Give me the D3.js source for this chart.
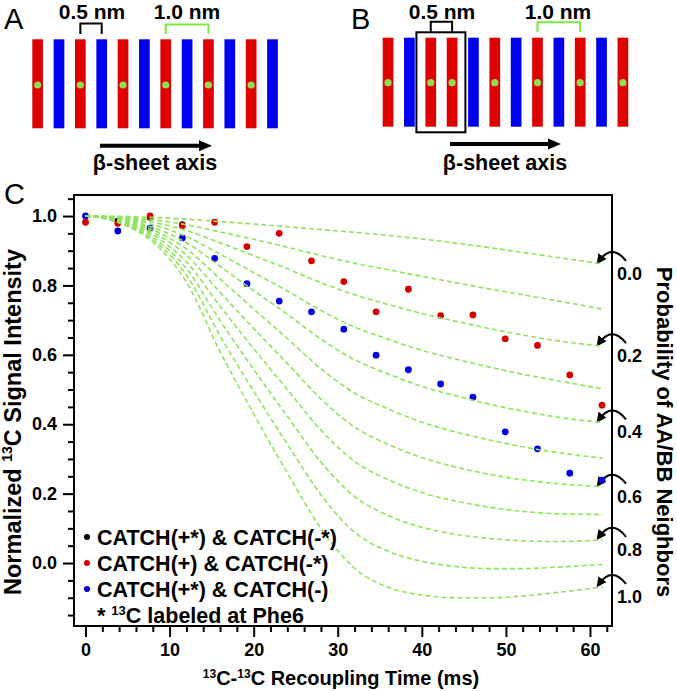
<!DOCTYPE html>
<html><head><meta charset="utf-8">
<script src="https://cdn.jsdelivr.net/npm/d3@7"></script>
<style>body{margin:0;background:#fff} svg{display:block} text{font-family:"Liberation Sans",Arial,Helvetica,sans-serif}</style>
</head><body><svg id="c" width="677" height="691"></svg>
<script>
// ---------- DATA ----------
const times = [0,3.84,7.68,11.52,15.36,19.2,23.04,26.88,30.72,34.56,38.4,42.24,46.08,49.92,53.76,57.6,61.44];
const redValues  = [0.982,0.979,1.0,0.972,0.982,0.912,0.950,0.871,0.811,0.724,0.789,0.713,0.715,0.646,0.627,0.542,0.455];
const blueValues = [1.0,0.957,0.965,0.937,0.878,0.805,0.755,0.724,0.674,0.599,0.557,0.516,0.478,0.378,0.329,0.259,0.239];
const blackTimes  = [3.84,7.68,11.52];
const blackValues = [0.986,0.996,0.976];

const curveTimes = [0,4,8,12,16,20,24,28,32,36,40,44,48,52,56,61.5];
const probabilities = [0.0,0.1,0.2,0.3,0.4,0.5,0.6,0.7,0.8,0.9,1.0];
const curveP00 = [1,0.999,0.996,0.991,0.984,0.977,0.969,0.961,0.953,0.944,0.934,0.922,0.909,0.895,0.881,0.862];
const curveP01 = [1,0.997,0.989,0.975,0.954,0.933,0.910,0.886,0.864,0.845,0.826,0.808,0.790,0.773,0.756,0.732];
const curveP02 = [1,0.995,0.982,0.958,0.923,0.886,0.848,0.808,0.773,0.745,0.719,0.697,0.676,0.657,0.641,0.625];
const curveP03 = [1,0.994,0.975,0.941,0.890,0.837,0.784,0.728,0.680,0.645,0.613,0.588,0.565,0.544,0.526,0.502];
const curveP04 = [1,0.992,0.967,0.923,0.855,0.785,0.717,0.645,0.586,0.545,0.509,0.482,0.458,0.438,0.421,0.405];
const curveP05 = [1,0.990,0.960,0.905,0.819,0.732,0.647,0.560,0.490,0.444,0.406,0.378,0.355,0.335,0.319,0.302];
const curveP06 = [1,0.988,0.953,0.887,0.780,0.676,0.575,0.473,0.392,0.342,0.304,0.277,0.256,0.240,0.229,0.220];
const curveP07 = [1,0.986,0.946,0.868,0.740,0.618,0.500,0.383,0.293,0.240,0.203,0.179,0.161,0.149,0.142,0.140];
const curveP08 = [1,0.984,0.939,0.849,0.699,0.558,0.423,0.291,0.192,0.137,0.103,0.083,0.071,0.064,0.062,0.067];
const curveP09 = [1,0.982,0.932,0.830,0.655,0.495,0.343,0.197,0.089,0.034,0.005,-0.010,-0.016,-0.016,-0.012,-0.004];
const curveP10 = [1,0.980,0.925,0.810,0.610,0.430,0.260,0.100,-0.015,-0.070,-0.092,-0.100,-0.100,-0.095,-0.085,-0.069];
const curveSeries = [curveP00,curveP01,curveP02,curveP03,curveP04,curveP05,curveP06,curveP07,curveP08,curveP09,curveP10];
const arrowLabels = ["0.0","0.2","0.4","0.6","0.8","1.0"];

const xTickMajor = [0,10,20,30,40,50,60];
const yTickMajor = [0.0,0.2,0.4,0.6,0.8,1.0];

const legendLabels = ["CATCH(+*) & CATCH(-*)","CATCH(+) & CATCH(-*)","CATCH(+*) & CATCH(-)"];

const barsA = ["R","B","R","B","R","B","R","B","R","B","R","B"];
const barsB = ["R","B","R","R","B","R","B","R","B","R","B","R"];

// ---------- DRAW ----------
const svg = d3.select("#c");
const RED = "#e00000", BLUE = "#0000f0", DOTG = "#8fe050", BRG = "#7ee83c";
const PT_RED = "#d40000", PT_BLUE = "#0000e0", CURVE = "#8ee55a";

const defs = svg.append("defs");
defs.append("marker").attr("id","ah").attr("viewBox","0 0 10 10").attr("refX",6).attr("refY",5)
  .attr("markerWidth",5).attr("markerHeight",5).attr("orient","auto")
  .append("path").attr("d","M0,0 L10,5 L0,10 z").attr("fill","#000");

// Panels A and B
function panel(bars, x0, yTop, yBot, dotY){
  const bx = d3.scaleLinear().domain([0,1]).range([x0, x0+21.35]);
  const g = svg.append("g");
  g.selectAll("rect").data(bars).join("rect")
    .attr("x",(d,i)=>bx(i)).attr("y",yTop).attr("width",10.7).attr("height",yBot-yTop)
    .attr("fill",d=>d==="R"?RED:BLUE);
  g.selectAll("circle").data(bars.map((d,i)=>({d,i})).filter(o=>o.d==="R")).join("circle")
    .attr("cx",o=>bx(o.i)+5.35).attr("cy",dotY).attr("r",3.6).attr("fill",DOTG);
  return bx;
}
const bxA = panel(barsA, 32.3, 39.3, 128.3, 85);
const bxB = panel(barsB, 382.7, 37.7, 126.7, 82.7);

function txt(x,y,s,size,weight,anchor){
  return svg.append("text").attr("x",x).attr("y",y).attr("font-size",size)
    .attr("font-weight",weight||"normal").attr("text-anchor",anchor||"start").text(s);
}
txt(4,29,"A",29); txt(351,29,"B",29); txt(4,204,"C",29);

// A brackets
svg.append("path").attr("d",`M${bxA(2)+5.35},34 V23.5 H${bxA(3)+5.35} V34`).attr("fill","none").attr("stroke","#000").attr("stroke-width",2);
svg.append("path").attr("d",`M${bxA(6)+5.35},34 V24.5 H${bxA(8)+5.35} V34`).attr("fill","none").attr("stroke",BRG).attr("stroke-width",2);
txt(92,19,"0.5 nm",21,"bold","middle");
txt(187,19,"1.0 nm",21,"bold","middle");
// B brackets and box
svg.append("rect").attr("x",bxB(2)-9).attr("y",32.3).attr("width",49).attr("height",100).attr("fill","none").attr("stroke","#000").attr("stroke-width",2);
svg.append("path").attr("d",`M${bxB(2)+5.35},32.3 V21.7 H${bxB(3)+5.35} V32.3`).attr("fill","none").attr("stroke","#000").attr("stroke-width",2);
svg.append("path").attr("d",`M${bxB(7)+5.35},32.3 V22.3 H${bxB(9)+5.35} V32.3`).attr("fill","none").attr("stroke",BRG).attr("stroke-width",2);
txt(442,19,"0.5 nm",21,"bold","middle");
txt(558,19,"1.0 nm",21,"bold","middle");

// beta-sheet arrows
function bigArrow(x1,x2,yy){
  svg.append("line").attr("x1",x1).attr("x2",x2-10).attr("y1",yy).attr("y2",yy).attr("stroke","#000").attr("stroke-width",4);
  svg.append("path").attr("d",`M${x2-13},${yy-5.5} L${x2},${yy} L${x2-13},${yy+5.5} z`).attr("fill","#000");
}
bigArrow(100,212,145.7);
bigArrow(450,561,144);
txt(155,170,"β-sheet axis",21.5,"bold","middle");
txt(505,170,"β-sheet axis",21.5,"bold","middle");

// Panel C scales
const L=74, R=612, T=195, B=626;
const x = d3.scaleLinear().domain([-1.37,62.62]).range([L,R]);
const y = d3.scaleLinear().domain([-0.18,1.06]).range([625.5,195.2]);

// axes
const near=(a,b)=>Math.abs(a-b)<1e-6;
const yMinor = d3.range(-15,106,5).map(v=>v/100).filter(v=>!yTickMajor.some(m=>near(m,v)));
const xMinor = d3.range(0,63,2).filter(v=>!xTickMajor.some(m=>near(m,v)));

const gy = svg.append("g").attr("transform",`translate(${L},0)`);
gy.append("g").call(d3.axisLeft(y).tickValues(yMinor).tickSize(6).tickFormat(""));
gy.append("g").call(d3.axisLeft(y).tickValues(yTickMajor).tickSize(11).tickPadding(6).tickFormat(d3.format(".1f")));
const gx = svg.append("g").attr("transform",`translate(0,${B})`);
gx.append("g").call(d3.axisBottom(x).tickValues(xMinor).tickSize(6).tickFormat(""));
gx.append("g").call(d3.axisBottom(x).tickValues(xTickMajor).tickSize(11).tickPadding(6).tickFormat(d3.format("d")));
svg.selectAll(".domain").remove();
svg.selectAll(".tick line").attr("stroke","#000").attr("stroke-width",2);
svg.selectAll(".tick text").attr("font-size",18).attr("font-weight","bold").attr("fill","#000")
  .attr("font-family",'"Liberation Sans",Arial,sans-serif');

// right-side probability arrows (under the data)
const arrowG = svg.append("g");
const labelG = svg.append("g");
arrowLabels.forEach((lab,k)=>{
  const s = curveSeries[k*2];
  const ye = y(s[s.length-1]);
  const a = ye-12;
  arrowG.append("path").attr("d",`M626,${a+9} Q612,${a-9} 599,${a+9}`).attr("fill","none")
    .attr("stroke","#000").attr("stroke-width",2).attr("marker-end","url(#ah)");
  labelG.append("text").attr("x",617).attr("y",ye+16).attr("font-size",18).attr("font-weight","bold").text(lab);
});

// data points (black underneath the red ones)
const pts = svg.append("g");
pts.selectAll(".k").data(blackTimes.map((t,i)=>[t,blackValues[i]])).join("circle")
  .attr("cx",d=>x(d[0])).attr("cy",d=>y(d[1])).attr("r",3.2).attr("fill","#000");
pts.selectAll(".b").data(times.map((t,i)=>[t,blueValues[i]])).join("circle")
  .attr("cx",d=>x(d[0])).attr("cy",d=>y(d[1])).attr("r",3.4).attr("fill",PT_BLUE);
pts.selectAll(".r").data(times.map((t,i)=>[t,redValues[i]])).join("circle")
  .attr("cx",d=>x(d[0])).attr("cy",d=>y(d[1])).attr("r",3.4).attr("fill",PT_RED);

// simulated curves
const line = d3.line().x(d=>x(d[0])).y(d=>y(d[1])).curve(d3.curveMonotoneX);
svg.append("g").selectAll("path").data(curveSeries).join("path")
  .attr("d",s=>line(curveTimes.map((t,i)=>[t,s[i]])))
  .attr("fill","none").attr("stroke",CURVE).attr("stroke-width",1.6).attr("stroke-dasharray","5,3");

// frame
svg.append("rect").attr("x",L).attr("y",T).attr("width",R-L).attr("height",B-T)
  .attr("fill","none").attr("stroke","#000").attr("stroke-width",2);

// axis titles
const yt = svg.append("text").attr("transform","translate(21,422) rotate(-90)").attr("text-anchor","middle")
  .attr("font-size",23.5).attr("font-weight","bold");
yt.append("tspan").text("Normalized ");
yt.append("tspan").attr("font-size",14).attr("dy",-9).text("13");
yt.append("tspan").attr("dy",9).text("C Signal Intensity");

svg.append("text").attr("transform","translate(657,432) rotate(90)").attr("text-anchor","middle")
  .attr("font-size",22).attr("font-weight","bold").text("Probability of AA/BB Neighbors");

const xt = svg.append("text").attr("x",341).attr("y",685).attr("text-anchor","middle")
  .attr("font-size",20).attr("font-weight","bold");
xt.append("tspan").attr("font-size",12).attr("dy",-7).text("13");
xt.append("tspan").attr("dy",7).text("C-");
xt.append("tspan").attr("font-size",12).attr("dy",-7).text("13");
xt.append("tspan").attr("dy",7).text("C Recoupling Time (ms)");

// legend
const legColors = ["#000",PT_RED,PT_BLUE];
legendLabels.forEach((lab,i)=>{
  const yy = 537 + i*26;
  svg.append("circle").attr("cx",87).attr("cy",yy).attr("r",3).attr("fill",legColors[i]);
  txt(97,yy+7.5,lab,21.5,"bold","start");
});
const nt = svg.append("text").attr("x",97).attr("y",622.5).attr("font-size",21.5).attr("font-weight","bold");
nt.append("tspan").text("* ");
nt.append("tspan").attr("font-size",13).attr("dy",-8).text("13");
nt.append("tspan").attr("dy",8).text("C labeled at Phe6");
</script></body></html>
